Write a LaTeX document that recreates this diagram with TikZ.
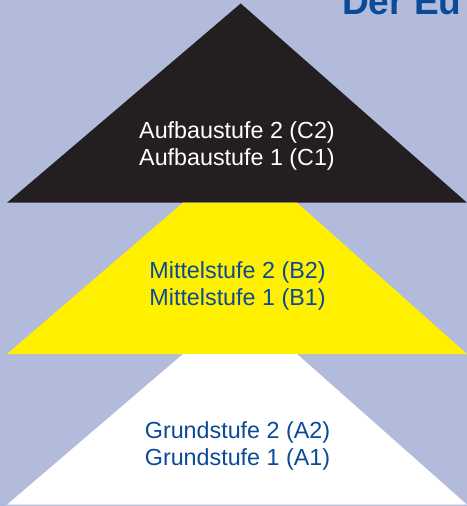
\documentclass[tikz,border=0pt]{standalone}
\usepackage{fontspec}
\setmainfont{Liberation Sans}
\definecolor{bg}{RGB}{178,187,219}
\definecolor{tierblack}{RGB}{35,31,32}
\definecolor{tieryellow}{RGB}{255,240,0}
\definecolor{textblue}{RGB}{10,74,150}
\begin{document}
\begin{tikzpicture}[x=1bp,y=-1bp,
  tiertext/.style={font=\fontsize{23.3bp}{27bp}\selectfont, anchor=base, inner sep=0pt},
  titletext/.style={font=\fontsize{37bp}{40bp}\selectfont\bfseries, anchor=base west, inner sep=0pt, text=textblue}]
\fill[bg] (0,0) rectangle (467,506);
\useasboundingbox (0,0) rectangle (467,506);
\fill[tierblack] (240.7,3.5) -- (467,202.7) -- (7,202.7) -- cycle;
\fill[tieryellow] (183,202.7) -- (297,202.7) -- (467,354) -- (7,354) -- cycle;
\fill[white] (183,354) -- (297,354) -- (467,504.7) -- (7,504.7) -- cycle;
\node[tiertext, text=white] (c2) at (237,139) {Aufbaustufe 2 (C2)};
\node[tiertext, text=white] (c1) at (237,166) {Aufbaustufe 1 (C1)};
\node[tiertext, text=textblue] (b2) at (237.5,278) {Mittelstufe 2 (B2)};
\node[tiertext, text=textblue] (b1) at (237.5,305) {Mittelstufe 1 (B1)};
\node[tiertext, text=textblue] (a2) at (237.5,438) {Grundstufe 2 (A2)};
\node[tiertext, text=textblue] (a1) at (237.5,465) {Grundstufe 1 (A1)};
\node[titletext] (title) at (342,15) {Der Eu};
\end{tikzpicture}
\end{document}
